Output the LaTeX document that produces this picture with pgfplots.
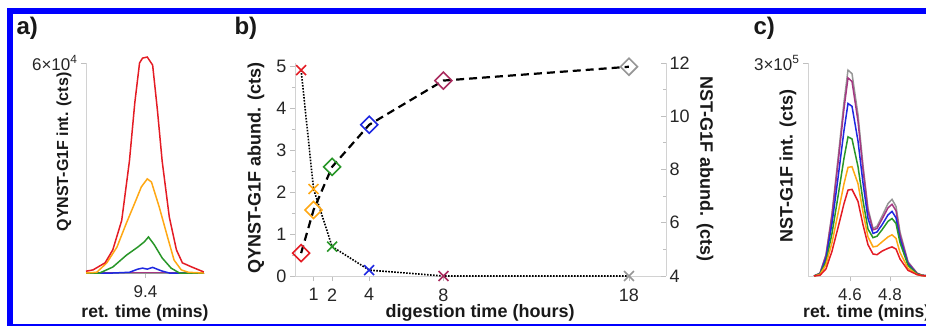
\documentclass[border=0pt]{standalone}
\usepackage{fontspec}
\setmainfont{Liberation Sans}
\usepackage{pgfplots}
\pgfplotsset{compat=1.18}
\definecolor{cred}{RGB}{228,28,36}
\definecolor{corange}{RGB}{255,168,20}
\definecolor{cgreen}{RGB}{40,150,40}
\definecolor{cblue}{RGB}{30,40,225}
\definecolor{cpurple}{RGB}{165,55,130}
\definecolor{cmaroon}{RGB}{170,45,95}
\definecolor{cgray}{RGB}{150,150,150}
\definecolor{frameblue}{RGB}{0,0,255}
\pgfplotsset{
  myax/.style={scale only axis, anchor=south west,
    axis x line=bottom, axis y line=left,
    axis line style={gray!35, line width=0.8pt, -},
    tick style={gray!50, line width=0.8pt},
    major tick length=5pt, minor tick length=3pt,
    tick align=outside,
    /pgf/number format/assume math mode=true,
    tick label style={font=\fontsize{18}{20}\selectfont, text=black!85},
    xticklabel style={yshift=-4pt},
  },
  trace/.style={line width=1.5pt, no marks},
}
\begin{document}
\begin{tikzpicture}
% ---------- panel a ----------
\begin{axis}[myax, at={(86pt,54pt)}, width=119pt, height=210pt,
  xmin=9.3, xmax=9.5, ymin=0, ymax=60, clip=false,
  xtick={9.4}, xticklabels={9.4},
  ytick={60}, yticklabels={6×10\textsuperscript{4}},
  tick label style={font=\fontsize{17}{19}\selectfont}]
\addplot[trace, cgray] coordinates {(9.3,0)(9.498,0)};
\addplot[trace, cpurple] coordinates {(9.3,0.15)(9.498,0.15)};
\addplot[trace, cblue] coordinates {(9.3,0)(9.345,0)(9.373,0.2)(9.387,1.1)(9.395,1.4)(9.403,1.1)(9.412,1.6)(9.427,0.6)(9.440,0)(9.498,0)};
\addplot[trace, cgreen] coordinates {(9.3,0)(9.323,0)(9.345,1.7)(9.368,5.1)(9.387,7.4)(9.398,8.9)(9.405,10.3)(9.415,8)(9.428,4.3)(9.443,1.4)(9.457,0)(9.498,0)};
\addplot[trace, corange] coordinates {(9.300,0)(9.318,0.2)(9.335,2.9)(9.352,7.4)(9.368,14.3)(9.382,20)(9.393,24.6)(9.403,26.9)(9.410,26)(9.423,18.9)(9.437,10.3)(9.448,3.7)(9.460,0.9)(9.472,0.2)(9.498,0)};
\addplot[trace, cred] coordinates {(9.300,0.5)(9.312,0.9)(9.332,2.9)(9.345,6.6)(9.360,15)(9.373,32)(9.382,48.6)(9.390,60)(9.395,61.4)(9.403,61.7)(9.412,59.4)(9.420,46.6)(9.428,32)(9.440,16)(9.452,6.6)(9.462,2.9)(9.478,1.7)(9.498,0.3)};
\end{axis}
% ---------- panel b, left axis ----------
\begin{axis}[myax, at={(295pt,51pt)}, width=371pt, height=213pt,
  xmin=0, xmax=20, ymin=0, ymax=5.07, clip=false,
  xtick={1,2,4,8,18}, ytick={0,1,2,3,4,5},
  minor ytick={0.5,1.5,2.5,3.5,4.5}]
\addplot[black, line width=1.6pt, dash pattern=on 1.6pt off 1.4pt, no marks] coordinates {(0.33,4.9)(1,2.07)(2,0.7)(4,0.14)(8,0)(18,0)};
\addplot[only marks, mark=x, mark size=7pt, mark options={cred, line width=1.6pt}] coordinates {(0.33,4.9)};
\addplot[only marks, mark=x, mark size=7pt, mark options={corange, line width=1.6pt}] coordinates {(1,2.07)};
\addplot[only marks, mark=x, mark size=7pt, mark options={cgreen, line width=1.6pt}] coordinates {(2,0.7)};
\addplot[only marks, mark=x, mark size=7pt, mark options={cblue, line width=1.6pt}] coordinates {(4,0.14)};
\addplot[only marks, mark=x, mark size=7pt, mark options={cmaroon, line width=1.6pt}] coordinates {(8,0)};
\addplot[only marks, mark=x, mark size=7pt, mark options={cgray, line width=1.6pt}] coordinates {(18,0)};
\end{axis}
% ---------- panel b, right axis ----------
\begin{axis}[myax, at={(295pt,51pt)}, width=371pt, height=213pt,
  xmin=0, xmax=20, ymin=4, ymax=12, clip=false,
  axis x line=none, axis y line*=right, tick align=inside,
  ytick={4,6,8,10,12}, minor ytick={5,7,9,11}]
\addplot[black, line width=2.2pt, dash pattern=on 8pt off 5pt, no marks] coordinates {(0.33,4.86)(1,6.48)(2,8.1)(4,9.68)(8,11.34)(18,11.86)};
\addplot[only marks, mark=square, mark size=6pt, mark options={cred, line width=1.6pt, rotate=45}] coordinates {(0.33,4.86)};
\addplot[only marks, mark=square, mark size=6pt, mark options={corange, line width=1.6pt, rotate=45}] coordinates {(1,6.48)};
\addplot[only marks, mark=square, mark size=6pt, mark options={cgreen, line width=1.6pt, rotate=45}] coordinates {(2,8.1)};
\addplot[only marks, mark=square, mark size=6pt, mark options={cblue, line width=1.6pt, rotate=45}] coordinates {(4,9.68)};
\addplot[only marks, mark=square, mark size=6pt, mark options={cmaroon, line width=1.6pt, rotate=45}] coordinates {(8,11.34)};
\addplot[only marks, mark=square, mark size=6pt, mark options={cgray, line width=1.6pt, rotate=45}] coordinates {(18,11.86)};
\end{axis}
% ---------- panel c ----------
\begin{axis}[myax, at={(808pt,51pt)}, width=120pt, height=213pt,
  xmin=4.39, xmax=4.99, ymin=0, ymax=300, clip=false,
  xtick={4.6,4.8}, xticklabels={4.6,4.8},
  ytick={300}, yticklabels={3×10\textsuperscript{5}},
  tick label style={font=\fontsize{17}{19}\selectfont}]
\addplot[trace, cgray] coordinates {(4.42,0)(4.45,4)(4.48,30)(4.51,88)(4.54,165)(4.57,245)(4.59,290)(4.61,285)(4.64,227)(4.665,156)(4.69,95)(4.715,67)(4.735,70)(4.76,84)(4.79,102)(4.81,108)(4.83,98)(4.85,62)(4.89,20)(4.935,4)(4.96,1)(4.99,0)};
\addplot[trace, cpurple] coordinates {(4.42,0)(4.45,4)(4.48,29)(4.51,85)(4.54,159)(4.57,236)(4.59,279)(4.61,274)(4.64,218)(4.665,150)(4.69,91)(4.715,65)(4.735,67)(4.76,80)(4.79,96)(4.81,101)(4.83,92)(4.85,58)(4.89,19)(4.935,4)(4.96,1)(4.99,0)};
\addplot[trace, cblue] coordinates {(4.42,0)(4.45,3)(4.48,25)(4.51,74)(4.54,138)(4.57,205)(4.59,243)(4.61,239)(4.64,190)(4.665,131)(4.69,81)(4.715,60)(4.735,62)(4.76,72)(4.79,86)(4.81,91)(4.83,82)(4.85,52)(4.89,17)(4.935,3)(4.96,1)(4.99,0)};
\addplot[trace, cgreen] coordinates {(4.42,0)(4.45,3)(4.48,20)(4.51,60)(4.54,112)(4.57,166)(4.59,196)(4.61,193)(4.64,154)(4.665,106)(4.69,66)(4.715,54)(4.735,56)(4.76,65)(4.79,77)(4.81,81)(4.83,74)(4.85,47)(4.89,15)(4.935,3)(4.96,1)(4.99,0)};
\addplot[trace, corange] coordinates {(4.42,0)(4.45,2)(4.48,16)(4.51,47)(4.54,88)(4.57,130)(4.59,153)(4.61,154)(4.64,130)(4.665,90)(4.69,55)(4.715,41)(4.735,42)(4.76,48)(4.79,55)(4.81,58)(4.83,53)(4.85,33)(4.89,11)(4.935,2)(4.96,0.5)(4.99,0)};
\addplot[trace, cred] coordinates {(4.42,0)(4.45,1)(4.48,10)(4.51,35)(4.54,68)(4.57,102)(4.59,121)(4.61,122)(4.64,105)(4.665,72)(4.69,44)(4.715,31)(4.735,30)(4.76,35)(4.79,39)(4.81,41)(4.83,38)(4.85,24)(4.89,8)(4.935,2)(4.96,0.5)(4.99,0)};
\end{axis}
% ---------- labels ----------
\begin{scope}[text=black!90]
\node[anchor=west, font=\fontsize{24}{26}\selectfont\bfseries] at (13pt,299pt) {a)};
\node[anchor=west, font=\fontsize{24}{26}\selectfont\bfseries] at (231pt,299pt) {b)};
\node[anchor=west, font=\fontsize{24}{26}\selectfont\bfseries] at (750pt,299pt) {c)};
\node[rotate=90, font=\fontsize{16}{18}\selectfont\bfseries] at (64pt,175pt) {QYNST-G1F int. (cts)};
\node[font=\fontsize{17.5}{19}\selectfont\bfseries] at (145pt,14pt) {ret. time (mins)};
\node[rotate=90, font=\fontsize{18}{20}\selectfont\bfseries] at (256pt,159pt) {QYNST-G1F abund. (cts)};
\node[rotate=-90, font=\fontsize{18}{20}\selectfont\bfseries] at (705pt,158pt) {NST-G1F abund. (cts)};
\node[font=\fontsize{18}{20}\selectfont\bfseries] at (480pt,14pt) {digestion time (hours)};
\node[rotate=90, font=\fontsize{18}{20}\selectfont\bfseries] at (788pt,161pt) {NST-G1F int. (cts)};
\node[anchor=west, inner sep=0pt, font=\fontsize{17.5}{19}\selectfont\bfseries] at (803pt,14pt) {ret. time (mins)};
\end{scope}
% ---------- frame ----------
\fill[frameblue] (7pt,313pt) rectangle (926pt,319pt);
\fill[frameblue] (7pt,1pt) rectangle (13pt,319pt);
\fill[frameblue] (7pt,1pt) rectangle (926pt,2.6pt);
\pgfresetboundingbox
\useasboundingbox (0pt,0pt) rectangle (926pt,327pt);
\end{tikzpicture}
\end{document}
